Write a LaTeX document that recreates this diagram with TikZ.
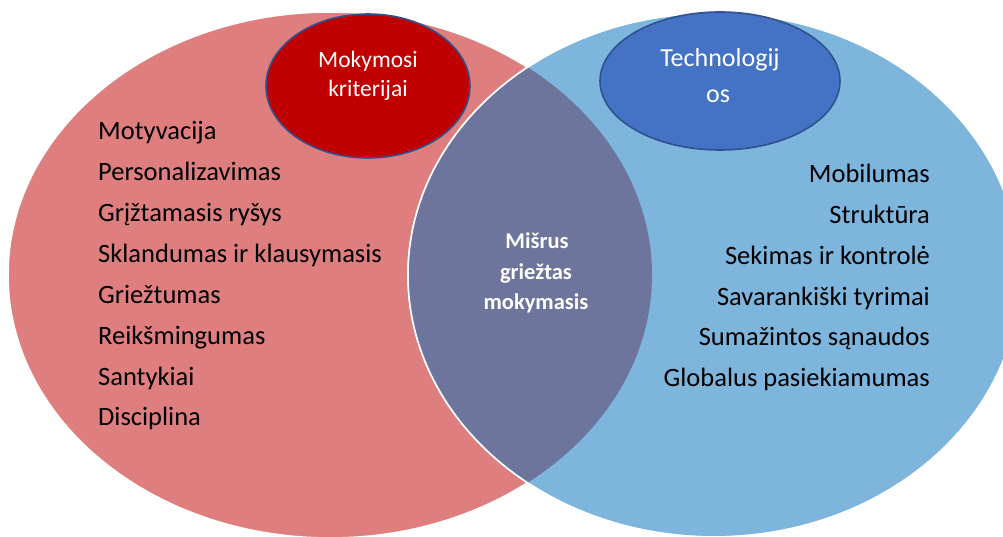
\documentclass[tikz,border=0pt]{standalone}
\usepackage{fontspec}
\setmainfont{Carlito}

\definecolor{leftfill}{HTML}{DF7E7E}
\definecolor{rightfill}{HTML}{7EB5DD}
\definecolor{overlapfill}{HTML}{6E759C}
\definecolor{critfill}{HTML}{C00000}
\definecolor{techfill}{HTML}{4472C4}
\definecolor{smallborder}{HTML}{2F528F}

\begin{document}
\begin{tikzpicture}[x=1pt,y=-1pt,
  bigset/.style={draw=white, line width=1.6pt},
  smallset/.style={draw=smallborder, line width=1.6pt},
  listitem/.style={font=\fontsize{26.5}{31}\selectfont, inner sep=0pt, text=black},
  setlabel/.style={font=\fontsize{23.5}{28}\selectfont, inner sep=0pt, text=white},
  techlabel/.style={setlabel, font=\fontsize{26}{30}\selectfont},
  corelabel/.style={font=\fontsize{22.5}{27}\selectfont\bfseries, inner sep=0pt, text=white}]

\useasboundingbox (0,0) rectangle (1003,537);

\begin{scope}
  \clip (0,0) rectangle (1003,537);
  % the two large sets
  \fill[leftfill, bigset] (330,275) ellipse [x radius=322, y radius=263];
  \fill[rightfill, bigset] (714,275) ellipse [x radius=306, y radius=262];
  % their overlap
  \begin{scope}
    \clip (330,275) ellipse [x radius=322, y radius=263];
    \fill[overlapfill] (714,275) ellipse [x radius=306, y radius=262];
  \end{scope}
  \draw[bigset] (714,275) ellipse [x radius=306, y radius=262];
\end{scope}

% set titles
\fill[critfill, smallset] (368,86) ellipse [x radius=102, y radius=72];
\fill[techfill, smallset] (720,81) ellipse [x radius=120, y radius=69];

\node[setlabel, anchor=base] (crit1) at (368,68) {Mokymosi};
\node[setlabel, anchor=base] (crit2) at (368,97) {kriterijai};
\node[techlabel, anchor=base] (tech1) at (720,67) {Technologij};
\node[techlabel, anchor=base] (tech2) at (718,103) {os};

% learning criteria
\node[listitem, anchor=base west] (l1) at (98,140) {Motyvacija};
\node[listitem, anchor=base west] (l2) at (98,181) {Personalizavimas};
\node[listitem, anchor=base west] (l3) at (98,222) {Grįžtamasis ryšys};
\node[listitem, anchor=base west] (l4) at (98,262) {Sklandumas ir klausymasis};
\node[listitem, anchor=base west] (l5) at (98,303) {Griežtumas};
\node[listitem, anchor=base west] (l6) at (98,344) {Reikšmingumas};
\node[listitem, anchor=base west] (l7) at (98,385) {Santykiai};
\node[listitem, anchor=base west] (l8) at (98,425) {Disciplina};

% technologies
\node[listitem, anchor=base east] (r1) at (930,183) {Mobilumas};
\node[listitem, anchor=base east] (r2) at (930,224) {Struktūra};
\node[listitem, anchor=base east] (r3) at (930,264) {Sekimas ir kontrolė};
\node[listitem, anchor=base east] (r4) at (930,305) {Savarankiški tyrimai};
\node[listitem, anchor=base east] (r5) at (930,345) {Sumažintos sąnaudos};
\node[listitem, anchor=base east] (r6) at (930,386) {Globalus pasiekiamumas};

% overlap
\node[corelabel, anchor=base] (c1) at (537,248) {Mišrus};
\node[corelabel, anchor=base] (c2) at (536,279) {griežtas};
\node[corelabel, anchor=base] (c3) at (536,309) {mokymasis};

\end{tikzpicture}
\end{document}
